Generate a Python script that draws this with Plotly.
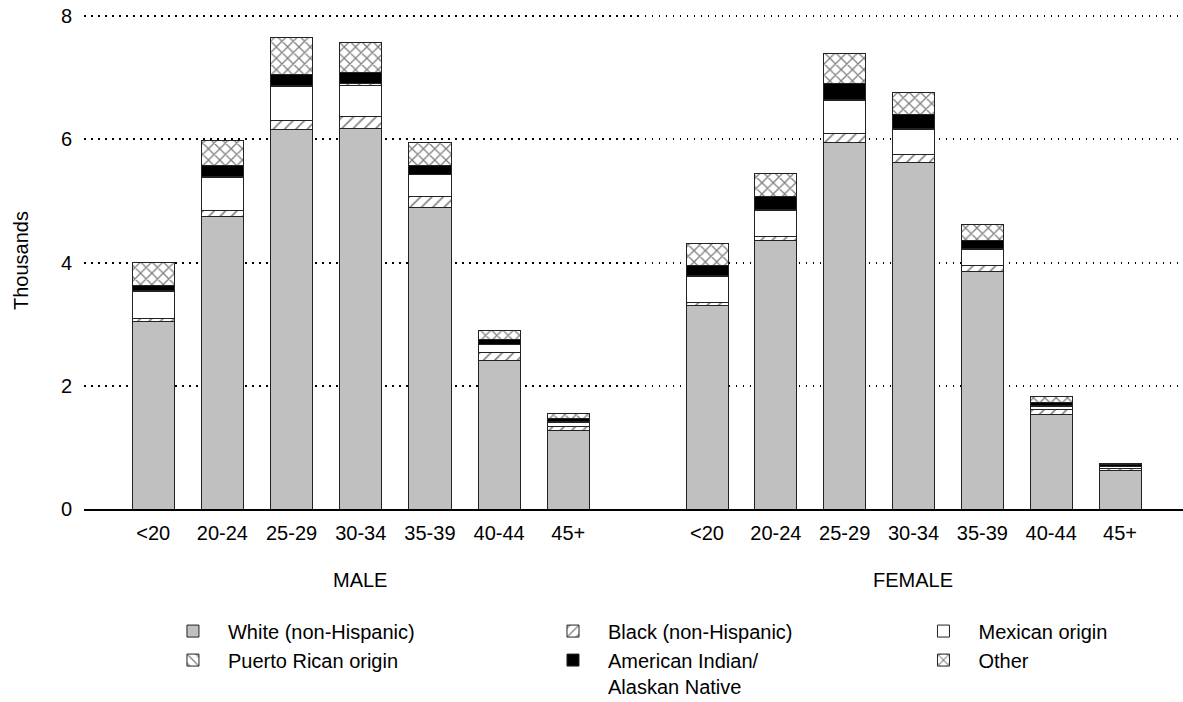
import plotly.graph_objects as go

age_groups = ["<20", "20-24", "25-29", "30-34", "35-39", "40-44", "45+"]
y_ticks = [0, 2, 4, 6, 8]

series_names = ["White (non-Hispanic)", "Black (non-Hispanic)", "Mexican origin",
                "Puerto Rican origin", "American Indian/<br>Alaskan Native", "Other"]

male_white = [3.04, 4.75, 6.16, 6.175, 4.895, 2.415, 1.27]
male_black = [0.055, 0.10, 0.15, 0.195, 0.185, 0.125, 0.07]
male_mexican = [0.435, 0.53, 0.54, 0.51, 0.345, 0.125, 0.07]
male_puerto_rican = [0.01, 0.02, 0.02, 0.02, 0.01, 0.01, 0.01]
male_american_indian = [0.095, 0.18, 0.185, 0.19, 0.135, 0.07, 0.05]
male_other = [0.365, 0.40, 0.595, 0.48, 0.38, 0.16, 0.085]

female_white = [3.30, 4.35, 5.95, 5.62, 3.85, 1.54, 0.625]
female_black = [0.055, 0.08, 0.15, 0.14, 0.11, 0.08, 0.04]
female_mexican = [0.42, 0.41, 0.53, 0.40, 0.255, 0.05, 0.02]
female_puerto_rican = [0.01, 0.02, 0.02, 0.015, 0.01, 0.005, 0.005]
female_american_indian = [0.175, 0.205, 0.25, 0.235, 0.14, 0.055, 0.03]
female_other = [0.355, 0.375, 0.50, 0.35, 0.245, 0.095, 0.025]

male_series = [male_white, male_black, male_mexican, male_puerto_rican, male_american_indian, male_other]
female_series = [female_white, female_black, female_mexican, female_puerto_rican, female_american_indian, female_other]

styles = [
    dict(color="#c0c0c0"),
    dict(color="white", pattern=dict(shape="/", fgcolor="black", bgcolor="white", size=8, solidity=0.2)),
    dict(color="white"),
    dict(color="white", pattern=dict(shape="\\", fgcolor="black", bgcolor="white", size=8, solidity=0.2)),
    dict(color="black"),
    dict(color="white", pattern=dict(shape="x", fgcolor="black", bgcolor="white", size=8, solidity=0.3)),
]
# legend column for each series (3 columns x 2 rows, row-major)
legend_ids = ["legend", "legend2", "legend3", "legend", "legend2", "legend3"]

fig = go.Figure()
for i, name in enumerate(series_names):
    for vals, xa, show in [(male_series[i], "x", True), (female_series[i], "x2", False)]:
        marker = dict(styles[i])
        marker["line"] = dict(color="#222222", width=1)
        fig.add_trace(go.Bar(
            x=age_groups, y=vals, name=name, xaxis=xa, yaxis="y",
            marker=marker, width=0.61, showlegend=show, legendgroup=name,
            legend=legend_ids[i],
        ))

font = "Liberation Sans, Arial, sans-serif"
fs = 20
W, H = 1183, 702
split = 553.5 / 1099
leg_y = -0.2068


def leg(x):
    return dict(orientation="v", x=x, xanchor="left", y=leg_y, yanchor="top",
                font=dict(size=fs), traceorder="normal", tracegroupgap=0, itemwidth=60,
                valign="top", bgcolor="rgba(0,0,0,0)")


fig.update_layout(
    barmode="stack",
    width=W, height=H,
    margin=dict(l=84, r=0, t=12.6, b=192.7, autoexpand=False),
    plot_bgcolor="white", paper_bgcolor="white",
    font=dict(family=font, size=fs, color="black"),
    xaxis=dict(domain=[0, split], range=[-1, 7], showline=True, linecolor="black", linewidth=1.5,
               showgrid=False, ticks="", ticklabelstandoff=5, tickfont=dict(size=fs)),
    xaxis2=dict(domain=[split, 1], range=[-1.01, 6.915], showline=True, linecolor="black", linewidth=1.5,
                showgrid=False, ticks="", ticklabelstandoff=5, tickfont=dict(size=fs), anchor="y"),
    yaxis=dict(range=[0, 8.05], tickvals=y_ticks, showgrid=True, gridcolor="black", gridwidth=1.5,
               griddash="1.5px,5.5px", zeroline=False, showline=False, ticks="",
               ticklabelstandoff=11, tickfont=dict(size=fs), ticklabeloverflow="allow"),
    legend=leg(0.0673),
    legend2=leg(0.4131),
    legend3=leg(0.7502),
    annotations=[
        dict(text="Thousands", xref="paper", yref="paper", x=-0.0573, y=0.5, textangle=-90,
             showarrow=False, xanchor="center", yanchor="middle", font=dict(size=fs)),
        dict(text="MALE", xref="paper", yref="paper", x=(360 - 84) / 1099, y=-0.144,
             showarrow=False, xanchor="center", yanchor="middle", font=dict(size=fs)),
        dict(text="FEMALE", xref="paper", yref="paper", x=(913 - 84) / 1099, y=-0.144,
             showarrow=False, xanchor="center", yanchor="middle", font=dict(size=fs)),
    ],
)

fig.write_html("out.html", config={"displayModeBar": False},
               post_script="document.body.style.margin='0';document.body.style.overflow='hidden';")
